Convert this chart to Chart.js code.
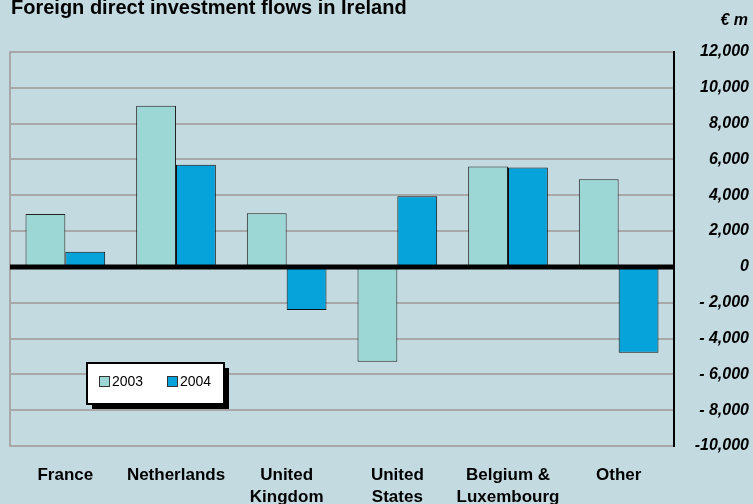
<!DOCTYPE html>
<html>
<head>
<meta charset="utf-8">
<title>Foreign direct investment flows in Ireland</title>
<script src="https://cdn.jsdelivr.net/npm/chart.js@4.4.1/dist/chart.umd.min.js"></script>
<style>
  html, body { margin: 0; padding: 0; background: #c4dae1; }
  #wrap { width: 753px; height: 504px; position: relative; }
</style>
</head>
<body>
<div id="wrap"><canvas id="c-fdi" width="753" height="504"></canvas></div>
<script>
// chart data
const categories = [['France'], ['Netherlands'], ['United', 'Kingdom'], ['United', 'States'], ['Belgium &', 'Luxembourg'], ['Other']];
const seriesNames = ['2003', '2004'];
const values2003 = [2950, 9000, 3000, -5300, 5600, 4900];
const values2004 = [850, 5700, -2400, 3950, 5550, -4800];
const yTickValues = [12000, 10000, 8000, 6000, 4000, 2000, 0, -2000, -4000, -6000, -8000, -10000];
const yTickLabels = ['12,000', '10,000', '8,000', '6,000', '4,000', '2,000', '0', '- 2,000', '- 4,000', '- 6,000', '- 8,000', '-10,000'];

const FONT = "'Liberation Sans', Arial, sans-serif";
const colors = ['#9dd7d5', '#05a3da'];

// title, units, zero line, left frame and boxed legend
const decorations = {
    id: 'decorations',
    beforeDatasetsDraw(chart) {
        const { ctx, chartArea } = chart;
        ctx.save();
        ctx.strokeStyle = '#a8a8a8';
        ctx.lineWidth = 2;
        ctx.beginPath();
        ctx.moveTo(chartArea.left, chartArea.top - 1);
        ctx.lineTo(chartArea.left, chartArea.bottom + 1);
        ctx.stroke();
        ctx.restore();
    },
    afterDatasetsDraw(chart) {
        const { ctx, chartArea, scales } = chart;
        const y0 = scales.y.getPixelForValue(0);
        ctx.save();
        ctx.strokeStyle = '#000';
        ctx.lineWidth = 5;
        ctx.beginPath();
        ctx.moveTo(chartArea.left, y0);
        ctx.lineTo(chartArea.right, y0);
        ctx.stroke();
        ctx.restore();
    },
    afterDraw(chart) {
        const { ctx } = chart;
        ctx.save();
        ctx.fillStyle = '#000';
        ctx.textBaseline = 'alphabetic';
        ctx.textAlign = 'left';
        ctx.font = `bold 20px ${FONT}`;
        ctx.fillText('Foreign direct investment flows in Ireland', 11, 14);

        ctx.textAlign = 'right';
        ctx.textBaseline = 'middle';
        ctx.font = `italic bold 16px ${FONT}`;
        ctx.fillText('\u20AC m', 748, 21);

        // legend box with drop shadow
        const lx = 87, ly = 363, lw = 137, lh = 41;
        ctx.fillStyle = '#000';
        ctx.fillRect(lx + 5, ly + 5, lw, lh);
        ctx.fillStyle = '#fff';
        ctx.fillRect(lx, ly, lw, lh);
        ctx.strokeStyle = '#000';
        ctx.lineWidth = 2;
        ctx.strokeRect(lx, ly, lw, lh);

        ctx.font = `14px ${FONT}`;
        ctx.textAlign = 'left';
        chart.data.datasets.forEach((ds, i) => {
            const sx = 99.5 + i * 68;
            ctx.fillStyle = ds.backgroundColor;
            ctx.fillRect(sx, 376.5, 10, 10);
            ctx.strokeStyle = '#333';
            ctx.lineWidth = 1;
            ctx.strokeRect(sx, 376.5, 10, 10);
            ctx.fillStyle = '#000';
            ctx.fillText(ds.label, sx + 12.5, 382);
        });
        ctx.restore();
    }
};

new Chart(document.getElementById('c-fdi'), {
    type: 'bar',
    data: {
        labels: categories,
        datasets: [
            { label: seriesNames[0], data: values2003, backgroundColor: colors[0], borderColor: '#222', borderWidth: 1 },
            { label: seriesNames[1], data: values2004, backgroundColor: colors[1], borderColor: '#111', borderWidth: 1 }
        ]
    },
    options: {
        responsive: false,
        animation: false,
        layout: { padding: { top: 52, left: 10, right: 4, bottom: 0 } },
        datasets: { bar: { categoryPercentage: 0.72, barPercentage: 1 } },
        plugins: { legend: { display: false }, title: { display: false }, tooltip: { enabled: false } },
        scales: {
            x: {
                grid: { display: false },
                border: { display: false },
                ticks: {
                    color: '#000',
                    padding: 10,
                    maxRotation: 0,
                    autoSkip: false,
                    font: { family: FONT, size: 17, weight: 'bold', lineHeight: 1.3 }
                },
                afterFit: (scale) => { scale.height = 58; }
            },
            y: {
                position: 'right',
                min: -10000,
                max: 12000,
                grid: {
                    drawTicks: false,
                    color: (c) => (c.tick && c.tick.value === 0 ? 'rgba(0,0,0,0)' : '#a8a8a8'),
                    lineWidth: 2
                },
                border: { display: true, color: '#000', width: 2 },
                ticks: {
                    stepSize: 2000,
                    crossAlign: 'far',
                    padding: 18,
                    color: '#000',
                    font: { family: FONT, size: 16, weight: 'bold', style: 'italic' },
                    callback: (v) => {
                        const i = yTickValues.indexOf(v);
                        return i >= 0 ? yTickLabels[i] : '';
                    }
                },
                afterFit: (scale) => { scale.width = 75; }
            }
        }
    },
    plugins: [decorations]
});
</script>
</body>
</html>
